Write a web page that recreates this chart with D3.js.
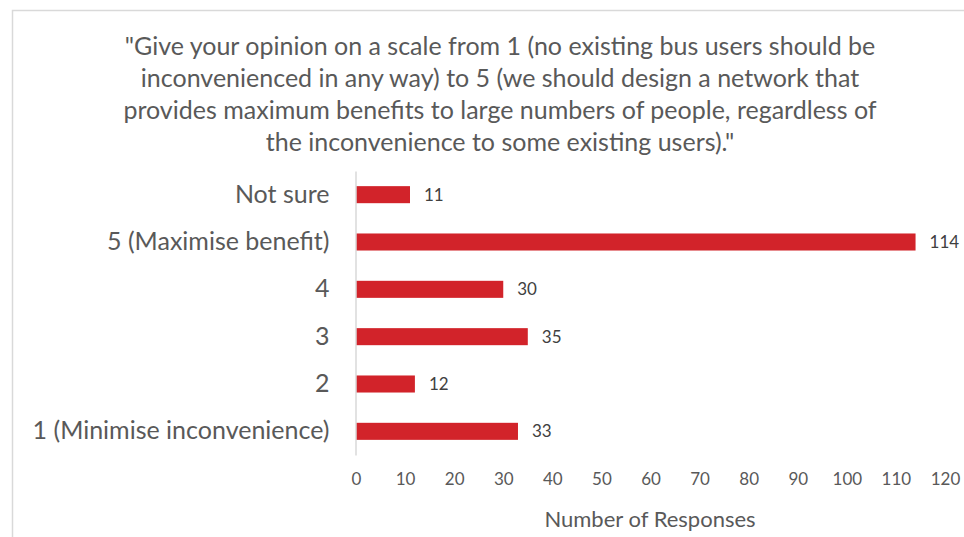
<!DOCTYPE html>
<html>
<head>
<meta charset="utf-8">
<script src="https://cdn.jsdelivr.net/npm/d3@7"></script>
<style>
  html, body { margin: 0; padding: 0; background: #fff; }
  svg { display: block; font-family: Lato, "Open Sans", sans-serif; }
</style>
</head>
<body>
<svg id="chart" width="964" height="537"></svg>
<script>
// Survey responses, listed top to bottom as drawn
const categories = [
  "Not sure",
  "5 (Maximise benefit)",
  "4",
  "3",
  "2",
  "1 (Minimise inconvenience)"
];
const responses = [11, 114, 30, 35, 12, 33];
const xTicks = [0, 10, 20, 30, 40, 50, 60, 70, 80, 90, 100, 110, 120];
const titleLines = [
  "\"Give your opinion on a scale from 1 (no existing bus users should be",
  "inconvenienced in any way) to 5 (we should design a network that",
  "provides maximum benefits to large numbers of people, regardless of",
  "the inconvenience to some existing users).\""
];
const xAxisTitle = "Number of Responses";

const svg = d3.select("#chart");
const textColor = "#595959";
const barColor = "#D2232A";
const font = "Lato, 'Open Sans', sans-serif";

// chart frame (only top and left edges fall inside the view)
svg.append("path")
  .attr("d", "M12.5,537 V10.5 H964")
  .attr("fill", "none")
  .attr("stroke", "#d9d9d9")
  .attr("stroke-width", 1.5);

const plot = { left: 356, right: 945, top: 171, bottom: 455 };

const x = d3.scaleLinear().domain([0, 120]).range([plot.left, plot.right]);
const y = d3.scaleBand().domain(categories).range([plot.top, plot.bottom]).paddingInner(0.64).paddingOuter(0.32);

// title
svg.append("g").selectAll("text")
  .data(titleLines)
  .join("text")
  .attr("x", 500)
  .attr("y", (d, i) => 55 + i * 32)
  .attr("text-anchor", "middle")
  .attr("fill", textColor)
  .attr("font-size", 25)
  .text(d => d);

// bars
svg.append("g").selectAll("rect")
  .data(categories)
  .join("rect")
  .attr("x", x(0))
  .attr("y", d => y(d))
  .attr("width", (d, i) => x(responses[i]) - x(0))
  .attr("height", y.bandwidth())
  .attr("fill", barColor);

// value labels
svg.append("g").selectAll("text")
  .data(categories)
  .join("text")
  .attr("x", (d, i) => x(responses[i]) + 14)
  .attr("y", d => y(d) + y.bandwidth() / 2 + 6)
  .attr("fill", "#404040")
  .attr("font-size", 17)
  .text((d, i) => responses[i]);

// category axis
const yAxis = svg.append("g")
  .attr("transform", `translate(${plot.left - 0.5},0)`)
  .call(d3.axisLeft(y).tickSize(0).tickPadding(26));
yAxis.select(".domain").attr("stroke", "#d9d9d9").attr("stroke-width", 1.5);
yAxis.selectAll("text")
  .attr("fill", textColor)
  .attr("font-size", 25)
  .attr("font-family", font);

// value axis (labels only)
const xAxis = svg.append("g")
  .attr("transform", `translate(0,${plot.bottom})`)
  .call(d3.axisBottom(x).tickValues(xTicks).tickSize(0).tickPadding(18));
xAxis.select(".domain").remove();
xAxis.selectAll("text")
  .attr("fill", textColor)
  .attr("font-size", 17)
  .attr("font-family", font);

svg.append("text")
  .attr("x", 650)
  .attr("y", 527)
  .attr("text-anchor", "middle")
  .attr("fill", textColor)
  .attr("font-size", 22)
  .text(xAxisTitle);
</script>
</body>
</html>
